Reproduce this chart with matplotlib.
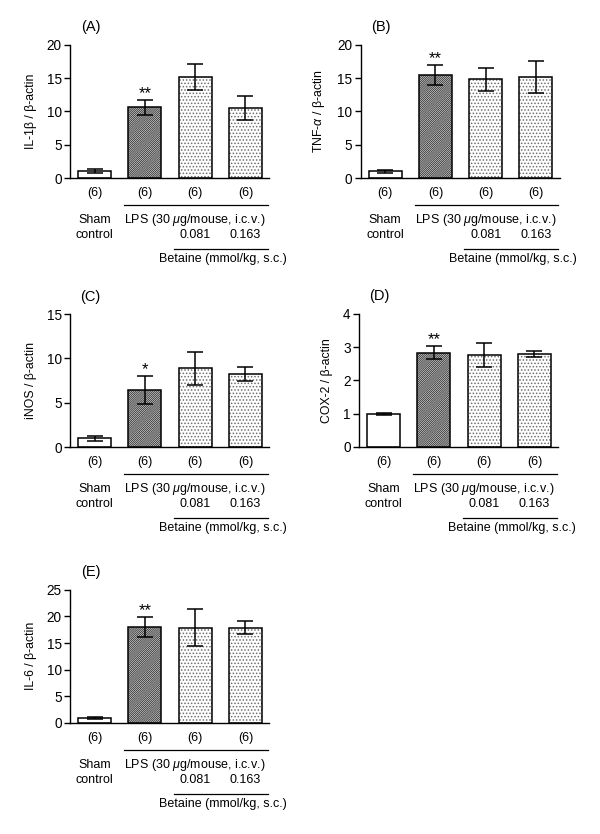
import matplotlib
matplotlib.use("Agg")
import matplotlib.pyplot as plt
import matplotlib.transforms as mtransforms

plt.rcParams['font.family'] = ['Liberation Sans', 'DejaVu Sans']
plt.rcParams['mathtext.fontset'] = 'custom'
plt.rcParams['mathtext.rm'] = 'Liberation Sans'
plt.rcParams['mathtext.it'] = 'Liberation Sans:italic'
plt.rcParams['hatch.linewidth'] = 0.7

# data (mean, SEM), groups: sham, LPS, LPS+bet 0.081, LPS+bet 0.163
group_n = ['(6)', '(6)', '(6)', '(6)']
panel_tags = ['(A)', '(B)', '(C)', '(D)', '(E)']
ylabels = ['IL-1\u03b2 / \u03b2-actin', 'TNF-$\\alpha$ / \u03b2-actin', 'iNOS / \u03b2-actin',
           'COX-2 / \u03b2-actin', 'IL-6 / \u03b2-actin']

il1b_mean = [1.0, 10.6, 15.1, 10.5]
il1b_err = [0.3, 1.1, 1.95, 1.75]
tnfa_mean = [1.0, 15.4, 14.8, 15.1]
tnfa_err = [0.2, 1.5, 1.7, 2.4]
inos_mean = [1.0, 6.45, 8.9, 8.25]
inos_err = [0.3, 1.55, 1.85, 0.77]
cox2_mean = [1.0, 2.83, 2.75, 2.78]
cox2_err = [0.03, 0.19, 0.36, 0.09]
il6_mean = [1.0, 18.0, 17.9, 17.9]
il6_err = [0.2, 1.95, 3.4, 1.2]

stars = ['**', '**', '*', '**', '**']
ymaxes = [20, 20, 15, 4, 25]
ysteps = [5, 5, 5, 1, 5]

means = [il1b_mean, tnfa_mean, inos_mean, cox2_mean, il6_mean]
errs = [il1b_err, tnfa_err, inos_err, cox2_err, il6_err]

W, H = 600, 834
fig = plt.figure(figsize=(W / 100, H / 100), dpi=100)

# axes boxes in pixels: left, y of zero line, width, height
boxes = [(70, 178, 199, 133.3), (360.5, 178, 199, 133.3),
         (70, 447.3, 199, 133.3), (359, 447, 199, 133.3),
         (70, 723, 199, 133.3)]

x = [0, 1, 2, 3]
hatches = [None, '/' * 16, '.' * 5, '.' * 5]
hcolors = ['white', '#3a3a3a', '#6e6e6e', '#6e6e6e']
fs = 9

for i in range(5):
    l, b, w, h = boxes[i]
    ax = fig.add_axes([l / W, 1 - b / H, w / W, h / H])
    for j in range(4):
        ax.bar(x[j], means[i][j], width=0.66, color='white', hatch=hatches[j],
               edgecolor=hcolors[j], linewidth=0, zorder=2)
    ax.bar(x, means[i], width=0.66, fill=False, edgecolor='black', linewidth=1.1, zorder=3)
    ax.errorbar(x, means[i], yerr=errs[i], fmt='none', ecolor='black',
                elinewidth=1.1, capsize=6, capthick=1.1, zorder=4)

    ax.set_xlim(-0.49, 3.47)
    ax.set_ylim(0, ymaxes[i])
    ax.set_yticks(range(0, ymaxes[i] + 1, ysteps[i]))
    ax.set_xticks([])
    ax.spines['top'].set_visible(False)
    ax.spines['right'].set_visible(False)
    ax.spines['left'].set_linewidth(1.0)
    ax.spines['bottom'].set_linewidth(1.0)
    ax.tick_params(axis='y', direction='out', length=4, width=1.0, labelsize=9.8, pad=2)
    ax.set_ylabel(ylabels[i], fontsize=8.8, labelpad=7)

    ax.text(-0.08, 1.0, panel_tags[i], transform=mtransforms.offset_copy(
        ax.get_xaxis_transform(), fig=fig, x=0, y=17.5, units='dots'),
        ha='center', va='center', fontsize=10.5)

    # significance mark
    ax.annotate(stars[i], xy=(1, means[i][1] + errs[i][1]), xytext=(0, 2),
                textcoords='offset pixels', ha='center', va='baseline', fontsize=12)

    tr = ax.get_xaxis_transform()

    def lbl(xx, dy, s, **kw):
        ax.annotate(s, xy=(xx, 0), xycoords=tr, xytext=(0, -dy),
                    textcoords='offset pixels', ha='center', va='center',
                    fontsize=fs, annotation_clip=False, **kw)

    for j in range(4):
        lbl(x[j], 15, group_n[j])
    lbl(0, 42, 'Sham')
    lbl(0, 57, 'control')
    lbl(2.0, 42, 'LPS (30 $\\mu$g/mouse, i.c.v.)')
    lbl(2, 57, '0.081')
    lbl(3, 57, '0.163')
    lbl(2.55, 81, 'Betaine (mmol/kg, s.c.)')

    for x0, x1, dy in [(0.59, 3.45, 27), (1.57, 3.45, 71)]:
        ln_tr = mtransforms.offset_copy(tr, fig=fig, x=0, y=-dy, units='dots')
        ax.plot([x0, x1], [0, 0], color='black', linewidth=0.9,
                transform=ln_tr, clip_on=False)

fig.savefig('out.png', dpi=100)
